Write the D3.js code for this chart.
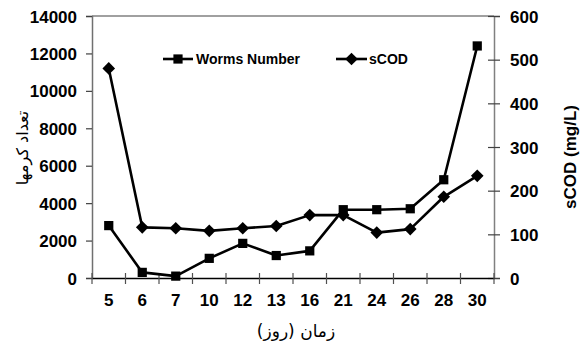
<!DOCTYPE html>
<html>
<head>
<meta charset="utf-8">
<script src="https://cdn.jsdelivr.net/npm/d3@7"></script>
<style>
  html, body { margin: 0; padding: 0; background: #fff; }
  svg { display: block; }
  .tick-label { font-family: "Liberation Sans", Arial, sans-serif; font-weight: bold; font-size: 17px; fill: #000; }
  .legend-text { font-family: "Liberation Sans", Arial, sans-serif; font-weight: bold; font-size: 14px; fill: #000; }
</style>
</head>
<body>
<svg id="chart" width="583" height="356"></svg>
<script>
// Sampling days (category axis)
const days = ["5", "6", "7", "10", "12", "13", "16", "21", "24", "26", "28", "30"];
// Number of worms (left axis)
const wormsNumber = [2800, 300, 100, 1050, 1850, 1200, 1450, 3650, 3650, 3700, 5250, 12400];
// Soluble COD, mg/L (right axis)
const sCOD = [480, 116, 114, 108, 114, 119, 144, 144, 104, 112, 186, 234];
// Axis tick values
const leftTicks = [0, 2000, 4000, 6000, 8000, 10000, 12000, 14000];
const rightTicks = [0, 100, 200, 300, 400, 500, 600];

const svg = d3.select("#chart");
const plot = { left: 92, right: 494, top: 16, bottom: 278 };

const x = d3.scaleBand().domain(days).range([plot.left, plot.right]).padding(0);
const yL = d3.scaleLinear().domain([0, 14000]).range([plot.bottom, plot.top]);
const yR = d3.scaleLinear().domain([0, 600]).range([plot.bottom, plot.top]);
const cx = d => x(d) + x.bandwidth() / 2;

// Frame: top border and the two value axes
svg.append("line")
  .attr("x1", plot.left).attr("x2", plot.right)
  .attr("y1", plot.top).attr("y2", plot.top)
  .attr("stroke", "#808080").attr("stroke-width", 1.5);

// Left axis
const gL = svg.append("g").attr("transform", `translate(${plot.left},0)`)
  .call(d3.axisLeft(yL).tickValues(leftTicks).tickSize(6).tickPadding(9).tickFormat(d3.format("d")));
gL.select(".domain").attr("stroke", "#707070").attr("stroke-width", 1.5);
gL.selectAll(".tick line").attr("stroke", "#404040").attr("stroke-width", 1.2);
gL.selectAll(".tick text").attr("class", "tick-label").attr("dy", "0.36em");

// Right axis (ticks cross the axis line)
const gR = svg.append("g").attr("transform", `translate(${plot.right},0)`)
  .call(d3.axisRight(yR).tickValues(rightTicks).tickSize(6).tickPadding(10).tickFormat(d3.format("d")));
gR.select(".domain").attr("stroke", "#808080").attr("stroke-width", 1.5);
gR.selectAll(".tick line").attr("x1", -6).attr("stroke", "#404040").attr("stroke-width", 1.2);
gR.selectAll(".tick text").attr("class", "tick-label").attr("dy", "0.36em");

// Bottom category axis: labels at band centers, tick marks at band boundaries
const gB = svg.append("g").attr("transform", `translate(0,${plot.bottom})`)
  .call(d3.axisBottom(x).tickSize(0).tickPadding(16));
gB.select(".domain").attr("stroke", "#000").attr("stroke-width", 1.5);
gB.selectAll(".tick text").attr("class", "tick-label");
const bounds = days.map(d => x(d)).concat([x.range()[1]]);
gB.selectAll("line.boundary").data(bounds).join("line")
  .attr("class", "boundary")
  .attr("x1", d => d).attr("x2", d => d)
  .attr("y1", -5).attr("y2", 6)
  .attr("stroke", "#505050").attr("stroke-width", 1.2);

// Series lines
const lineL = d3.line().x((d, i) => cx(days[i])).y(d => yL(d));
const lineR = d3.line().x((d, i) => cx(days[i])).y(d => yR(d));

svg.append("path").datum(sCOD)
  .attr("d", lineR).attr("fill", "none")
  .attr("stroke", "#000").attr("stroke-width", 2.6).attr("stroke-linejoin", "round");
svg.append("path").datum(wormsNumber)
  .attr("d", lineL).attr("fill", "none")
  .attr("stroke", "#000").attr("stroke-width", 2.6).attr("stroke-linejoin", "round");

// Markers: filled squares and square-based diamonds (rotated 45°)
const sq = d3.symbol().type(d3.symbolSquare).size(85);
const dm = d3.symbol().type(d3.symbolSquare).size(80);

svg.selectAll("path.sq").data(wormsNumber).join("path")
  .attr("class", "sq")
  .attr("d", sq)
  .attr("transform", (d, i) => `translate(${cx(days[i])},${yL(d)})`)
  .attr("fill", "#000");

svg.selectAll("path.dm").data(sCOD).join("path")
  .attr("class", "dm")
  .attr("d", dm)
  .attr("transform", (d, i) => `translate(${cx(days[i])},${yR(d)}) rotate(45)`)
  .attr("fill", "#000");

// Legend
const legend = svg.append("g");
const legendItems = [
  { name: "Worms Number", x0: 163, x1: 193, tx: 196, sym: sq, rot: 0 },
  { name: "sCOD", x0: 336, x1: 367, tx: 369, sym: dm, rot: 45 }
];
const ly = 59;
legendItems.forEach(it => {
  legend.append("line")
    .attr("x1", it.x0).attr("x2", it.x1).attr("y1", ly).attr("y2", ly)
    .attr("stroke", "#000").attr("stroke-width", 2.6);
  legend.append("path").attr("d", it.sym)
    .attr("transform", `translate(${(it.x0 + it.x1) / 2},${ly}) rotate(${it.rot})`).attr("fill", "#000");
  legend.append("text").attr("class", "legend-text")
    .attr("x", it.tx).attr("y", ly).attr("dy", "0.36em").text(it.name);
});

// Axis titles
svg.append("text")
  .attr("transform", "translate(22,148) rotate(-90)")
  .attr("text-anchor", "middle").attr("dy", "0.35em")
  .style("font-family", "'DejaVu Sans', sans-serif").style("font-size", "16px")
  .attr("direction", "rtl")
  .text("تعداد کرمها");

svg.append("text")
  .attr("transform", "translate(570,157) rotate(-90)")
  .attr("text-anchor", "middle").attr("dy", "0.35em")
  .style("font-family", "'Liberation Sans', Arial, sans-serif").style("font-weight", "bold").style("font-size", "17px")
  .text("sCOD (mg/L)");

svg.append("text")
  .attr("x", 296).attr("y", 331)
  .attr("text-anchor", "middle").attr("dy", "0.35em")
  .style("font-family", "'DejaVu Sans', sans-serif").style("font-size", "17px")
  .attr("direction", "rtl")
  .text("زمان (روز)");
</script>
</body>
</html>
